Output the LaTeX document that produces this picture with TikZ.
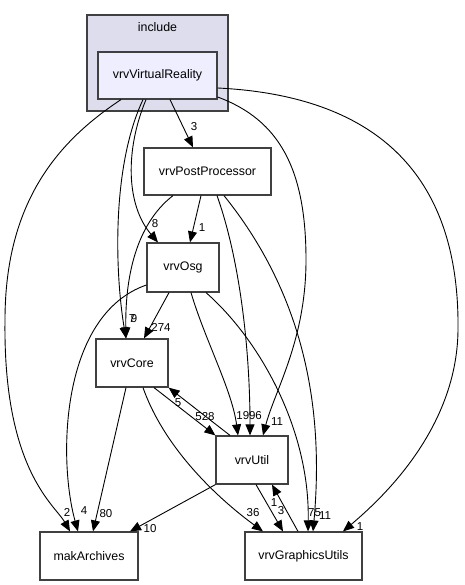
\documentclass[tikz,border=0pt]{standalone}
\usepackage{fontspec}
\setmainfont{Liberation Sans}
\usetikzlibrary{arrows.meta}
\definecolor{clfill}{HTML}{DDDDEE}
\definecolor{vrfill}{HTML}{EEEEFF}
\definecolor{bord}{HTML}{404040}
\newcommand{\nodefnt}{\fontsize{12.4}{14}\selectfont}
\newcommand{\labfnt}{\fontsize{11.5}{13}\selectfont}
\tikzset{
  box/.style={draw=bord, line width=1.2pt, fill=white, inner sep=0pt, minimum height=48pt, font=\nodefnt},
  clbox/.style={draw=bord, line width=1.2pt, fill=clfill, inner sep=0pt},
  edge/.style={line width=0.9pt, -{Triangle[length=11pt,width=9pt]}},
  lab/.style={font=\labfnt, inner sep=0pt}
}
\begin{document}
\begin{tikzpicture}[x=1pt,y=-1pt]
\useasboundingbox (0,0) rectangle (464,585);
% cluster
\node[clbox, minimum width=141pt, minimum height=96pt] (inc) at (157.5,63) {};
\node[font=\nodefnt, inner sep=0pt] (inclab) at (157.5,27) {include};
% nodes
\node[box, fill=vrfill, minimum width=119pt, minimum height=47pt] (VR) at (157.5,75.5) {vrvVirtualReality};
\node[box, minimum width=127pt, minimum height=47pt] (PP) at (207.5,171.5) {vrvPostProcessor};
\node[box, minimum width=72pt, minimum height=49pt] (Osg) at (183,267.5) {vrvOsg};
\node[box, minimum width=72pt] (Core) at (132,363) {vrvCore};
\node[box, minimum width=72pt] (Util) at (252,460) {vrvUtil};
\node[box, minimum width=98pt] (mak) at (89,556) {makArchives};
\node[box, minimum width=117pt] (GU) at (303.5,556) {vrvGraphicsUtils};
% edges
\draw[edge] ([xshift=-36.5pt]VR.south) .. controls (60,140) and (5,200) .. (5,320) .. controls (3,470) and (55,505) .. ([xshift=-19pt]mak.north);
\draw[edge] ([xshift=-14.5pt]VR.south) .. controls (110,170) and (116,280) .. ([xshift=-6pt]Core.north);
\draw[edge] ([xshift=-11.5pt]VR.south) .. controls (125,150) and (126,205) .. ([xshift=-25pt]Osg.north);
\draw[edge] ([xshift=12.5pt]VR.south) -- ([xshift=-14.5pt]PP.north);
\draw[edge] ([yshift=-21.5pt]VR.east) .. controls (280,120) and (306,170) .. (306,260) .. controls (306,340) and (275,390) .. ([xshift=11pt]Util.north);
\draw[edge] ([yshift=-12.5pt]VR.east) .. controls (360,95) and (460,160) .. (458,330) .. controls (457,430) and (380,500) .. ([xshift=39.5pt]GU.north);
\draw[edge] ([xshift=-6.5pt]PP.south) -- ([xshift=7pt]Osg.north);
\draw[edge] ([xshift=-34.5pt]PP.south) .. controls (135,225) and (125,280) .. ([xshift=-6pt]Core.north);
\draw[edge] ([xshift=9.5pt]PP.south) .. controls (240,260) and (250,350) .. ([xshift=-2pt]Util.north);
\draw[edge] ([xshift=16.5pt]PP.south) .. controls (300,290) and (325,400) .. ([xshift=9.5pt]GU.north);
\draw[edge] ([xshift=-14pt]Osg.south) -- ([xshift=12pt]Core.north);
\draw[edge] ([xshift=8pt]Osg.south) .. controls (205,340) and (232,390) .. ([xshift=-14pt]Util.north);
\draw[edge] ([xshift=23pt]Osg.south) .. controls (260,340) and (310,430) .. ([xshift=4.5pt]GU.north);
\draw[edge] ([yshift=-17.5pt]Osg.west) .. controls (60,315) and (58,460) .. ([xshift=-11pt]mak.north);
\draw[edge] ([xshift=-6pt]Core.south) -- ([xshift=4pt]mak.north);
\draw[edge] ([xshift=22pt]Core.south) -- (Util.north west);
\draw[edge] ([xshift=-22pt]Util.north) -- (Core.south east);
\draw[edge] ([xshift=11pt]Core.south) .. controls (165,450) and (220,500) .. ([xshift=-40.5pt]GU.north);
\draw[edge] (Util.south west) -- ([xshift=41pt]mak.north);
\draw[edge] ([xshift=4pt]Util.south) -- ([xshift=-20.5pt]GU.north);
\draw[edge] ([xshift=-5.5pt]GU.north) -- ([xshift=20pt]Util.south);
% labels
\node[lab] (l1) at (194,127) {3};
\node[lab] (l2) at (155,224) {8};
\node[lab] (l3) at (202,228) {1};
\node[lab] (l4) at (132,319) {7};
\node[lab] (l5) at (134,319) {9};
\node[lab] (l6) at (161,327) {274};
\node[lab] (l7) at (178,403) {5};
\node[lab] (l8) at (205,417) {528};
\node[lab] (l9) at (246,416) {199};
\node[lab] (l10) at (258.5,416) {6};
\node[lab] (l11) at (277,422) {11};
\node[lab] (l12) at (67,512) {2};
\node[lab] (l13) at (84,511) {4};
\node[lab] (l14) at (106,514) {80};
\node[lab] (l15) at (150,529) {10};
\node[lab] (l16) at (253,513) {36};
\node[lab] (l17) at (274,503) {1};
\node[lab] (l18) at (281,511) {3};
\node[lab] (l19) at (314.5,513) {75};
\node[lab] (l20) at (325,516) {11};
\node[lab] (l21) at (360,527) {1};
\end{tikzpicture}
\end{document}
